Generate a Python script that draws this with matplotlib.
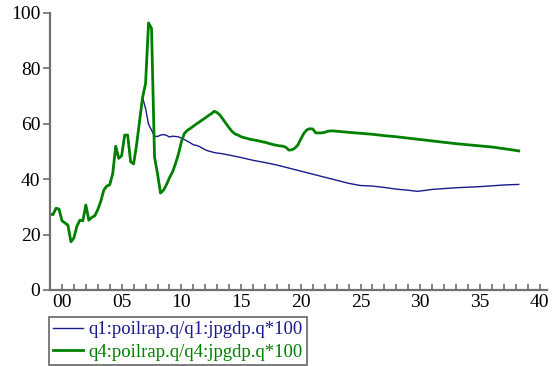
import numpy as np
import matplotlib
matplotlib.use("Agg")
import matplotlib.pyplot as plt

# quarterly history, starting 1999Q1
startYear = 1999.0
q4Quarterly = [27.4, 27.2, 29.5, 29.2, 25.0, 24.2, 23.4, 17.4, 18.8, 23.0,
               25.2, 25.0, 30.7, 25.2, 26.2, 26.8, 29.0, 32.0, 36.0, 37.5,
               38.0, 42.0, 51.9, 47.5, 48.5, 55.9, 55.9, 46.3, 45.5, 52.5,
               61.0, 69.5, 74.5, 96.4, 94.4, 48.0, 42.0, 35.0, 36.0, 38.0,
               40.5, 42.5, 45.5, 49.0, 53.5, 56.5, 57.6, 58.3, 59.1, 59.9,
               60.6, 61.4, 62.1, 62.9, 63.6, 64.5, 64.0, 63.0, 61.5, 60.0,
               58.5, 57.2, 56.3, 55.9, 55.3, 55.0, 54.7, 54.4, 54.2, 54.0,
               53.8, 53.5, 53.3, 53.0, 52.7, 52.4, 52.2, 52.0, 51.9, 51.5,
               50.5, 50.6, 51.2, 52.3, 54.5, 56.5, 57.8, 58.2, 58.1, 56.7,
               56.7, 56.7, 56.9, 57.3, 57.4, 57.4, 57.3]
q4TailYears = [2024.0, 2025.0, 2026.0, 2027.0, 2028.0, 2029.0, 2030.0, 2031.0,
               2032.0, 2033.0, 2034.0, 2035.0, 2036.0, 2037.0, 2038.25]
q4Tail = [56.9, 56.55, 56.2, 55.7, 55.3, 54.8, 54.3, 53.8,
          53.3, 52.8, 52.4, 52.0, 51.6, 51.0, 50.2]

# q1 shares the history up to 2006Q4
sharedQuarters = 32
q1Quarterly = [65.5, 59.8, 57.7, 55.5, 55.4, 55.9, 56.1, 55.8, 55.2, 55.5,
               55.4, 55.3, 54.8, 54.3, 53.7, 53.1, 52.4, 52.2, 51.8, 51.2,
               50.6, 50.2, 49.9, 49.6, 49.4, 49.3, 49.1, 48.9, 48.7]
q1TailYears = [2015.0, 2016.0, 2017.0, 2018.0, 2019.0, 2020.0, 2021.0, 2022.0,
               2023.0, 2024.0, 2025.0, 2026.0, 2027.0, 2028.0, 2029.0, 2029.75,
               2030.5, 2031.0, 2032.0, 2033.0, 2034.0, 2035.0, 2036.0, 2037.0,
               2038.25]
q1Tail = [47.8, 46.8, 46.0, 45.1, 44.0, 42.9, 41.8, 40.7,
          39.6, 38.5, 37.7, 37.5, 37.0, 36.4, 36.0, 35.6,
          36.0, 36.3, 36.6, 36.9, 37.1, 37.3, 37.6, 37.9,
          38.1]

labels = ["q1:poilrap.q/q1:jpgdp.q*100", "q4:poilrap.q/q4:jpgdp.q*100"]
colors = ["#1a1a8c", "#008000"]


def buildSeries():
    q4Years = startYear + np.arange(len(q4Quarterly)) / 4
    q4x = np.concatenate([q4Years, q4TailYears])
    q4y = np.concatenate([q4Quarterly, q4Tail])

    q1Values = q4Quarterly[:sharedQuarters] + q1Quarterly
    q1Years = startYear + np.arange(len(q1Values)) / 4
    q1x = np.concatenate([q1Years, q1TailYears])
    q1y = np.concatenate([q1Values, q1Tail])
    return (q1x, q1y), (q4x, q4y)


def main():
    plt.rcParams["font.family"] = ["Liberation Serif", "DejaVu Serif"]
    fig = plt.figure(figsize=(5.57, 3.66), dpi=100)
    ax = fig.add_axes([0.0898, 0.2077, 0.892, 0.757])

    (q1x, q1y), (q4x, q4y) = buildSeries()
    ax.plot(q1x, q1y, color=colors[0], linewidth=1.0, label=labels[0])
    ax.plot(q4x, q4y, color=colors[1], linewidth=2.0, label=labels[1])

    ax.set_xlim(1999.0, 2040.6)
    ax.set_ylim(0, 100)
    ax.set_yticks(np.arange(0, 101, 20))
    majorYears = np.arange(2000, 2041, 5)
    ax.set_xticks(majorYears)
    ax.set_xticklabels(["%02d" % (y % 100) for y in majorYears])
    ax.set_xticks(np.arange(2000, 2041, 1), minor=True)

    for side in ["top", "right"]:
        ax.spines[side].set_visible(False)
    for side in ["left", "bottom"]:
        ax.spines[side].set_color("#707070")
        ax.spines[side].set_linewidth(1.6)

    ax.tick_params(axis="y", direction="out", length=5, width=1.2,
                   color="#707070", labelsize=14, pad=2)
    ax.tick_params(axis="x", which="both", direction="in", length=4,
                   width=1.2, color="#707070", labelsize=14, pad=3)

    leg = fig.legend(loc="upper left", bbox_to_anchor=(0.088, 0.134),
                     bbox_transform=fig.transFigure, fontsize=13.5,
                     frameon=True, fancybox=False, borderaxespad=0,
                     handlelength=1.6, handletextpad=0.3, borderpad=0.22,
                     labelspacing=0.3)
    leg.get_frame().set_edgecolor("#404040")
    leg.get_frame().set_linewidth(1.2)
    for text, c in zip(leg.get_texts(), colors):
        text.set_color(c)

    fig.savefig("out.png", dpi=100)


if __name__ == "__main__":
    main()
